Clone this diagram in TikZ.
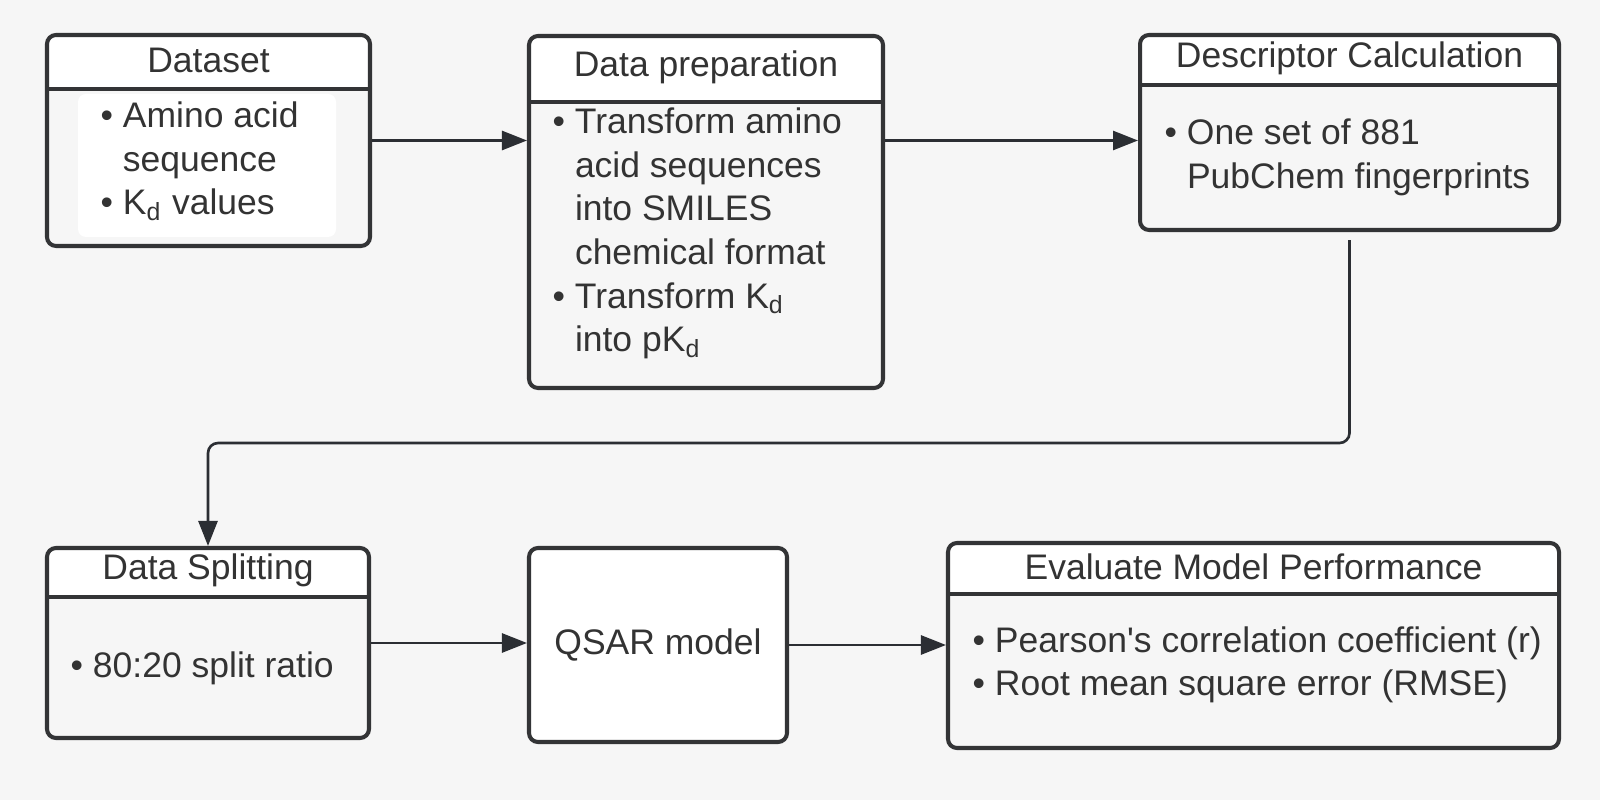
\documentclass[tikz,border=0pt]{standalone}
\usepackage{fontspec}
\setmainfont{Liberation Sans}
\usetikzlibrary{arrows.meta}

\definecolor{bggray}{HTML}{F6F6F6}
\definecolor{edge}{HTML}{333436}
\definecolor{ink}{HTML}{2B2E33}
\definecolor{txt}{HTML}{333333}
\newcommand{\itm}{\textbullet\ }
\newcommand{\ind}{\phantom{\textbullet\ }}

\tikzset{
  card/.style={draw=edge, line width=1.15pt, rounded corners=0.09cm, fill=bggray, inner sep=0pt},
  header/.style={path picture={
      \fill[white, sharp corners] (path picture bounding box.north west) rectangle ([yshift=-#1]path picture bounding box.north east);
      \draw[edge, line width=1.15pt, sharp corners] ([yshift=-#1]path picture bounding box.north west) -- ([yshift=-#1]path picture bounding box.north east);}},
  headtxt/.style={text=txt, font=\fontsize{10.1pt}{12.4pt}\selectfont},
  body/.style={headtxt, align=left, anchor=west, inner sep=0pt},
  arr/.style={ink, line width=0.75pt, -{Triangle[length=0.25cm, width=0.19cm]}}
}

\begin{document}
\begin{tikzpicture}
    \fill[bggray] (0,0) rectangle (16,8);
    % top row
    \node[card, header=0.54cm, minimum width=3.23cm, minimum height=2.11cm] (ds) at (2.085,6.595) {};
    \node[fill=white, rounded corners=0.08cm, minimum width=2.58cm, minimum height=1.43cm] (dsin) at (2.07,6.345) {};
    \node[headtxt] (dsT) at ([yshift=-0.27cm]ds.north) {Dataset};
    \node[body] (dsB) at (1.00,6.385) {\itm Amino acid\\ \ind sequence\\ \itm K\textsubscript{d} values};

    \node[card, header=0.66cm, minimum width=3.54cm, minimum height=3.52cm] (prep) at (7.06,5.88) {};
    \node[headtxt] (prepT) at ([yshift=-0.33cm]prep.north) {Data preparation};
    \node[body] (prepB) at (5.52,5.665) {\itm Transform amino\\ \ind acid sequences\\ \ind into SMILES\\ \ind chemical format\\ \itm Transform K\textsubscript{d}\\ \ind into pK\textsubscript{d}};

    \node[card, header=0.50cm, minimum width=4.19cm, minimum height=1.95cm] (desc) at (13.495,6.675) {};
    \node[headtxt] (descT) at ([yshift=-0.25cm]desc.north) {Descriptor Calculation};
    \node[body] (descB) at (11.64,6.425) {\itm One set of 881\\ \ind PubChem fingerprints};

    % bottom row
    \node[card, header=0.49cm, minimum width=3.22cm, minimum height=1.90cm] (split) at (2.08,1.57) {};
    \node[headtxt] (splitT) at ([yshift=-0.245cm]split.north) {Data Splitting};
    \node[body] (splitB) at (0.70,1.32) {\itm 80:20 split ratio};

    \node[card, headtxt, fill=white, minimum width=2.58cm, minimum height=1.94cm] (qsar) at (6.58,1.55) {QSAR model};

    \node[card, header=0.51cm, minimum width=6.11cm, minimum height=2.05cm] (eval) at (12.535,1.545) {};
    \node[headtxt] (evalT) at ([yshift=-0.255cm]eval.north) {Evaluate Model Performance};
    \node[body] (evalB) at (9.72,1.35) {\itm Pearson\textquotesingle s correlation coefficient (r)\\ \itm Root mean square error (RMSE)};

    % connectors
    \draw[arr] (ds.east) -- (ds.east -| prep.west);
    \draw[arr] (ds.east -| prep.east) -- (ds.east -| desc.west);
    \draw[arr, rounded corners=0.1cm] ([yshift=-0.08cm]desc.south) -- ++(0,-2.03) -| (split.north);
    \draw[arr] (split.east) -- (split.east -| qsar.west);
    \draw[arr] (qsar.east) -- (qsar.east -| eval.west);
\end{tikzpicture}
\end{document}
